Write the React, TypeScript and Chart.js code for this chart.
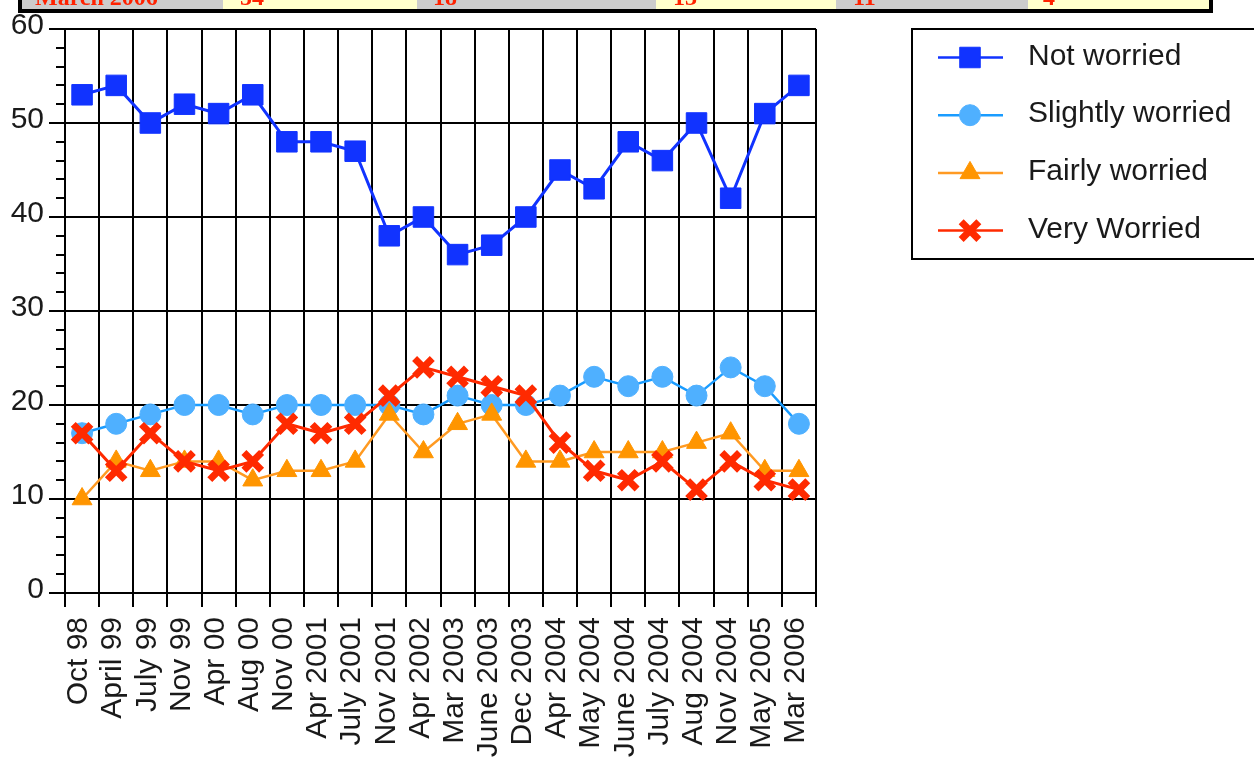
import React, { useEffect, useRef } from "react";
import { Chart, registerables } from "chart.js";
import { drawPoint } from "chart.js/helpers";

Chart.register(...registerables);

const categories = [
  "Oct 98", "April 99", "July 99", "Nov 99", "Apr 00", "Aug 00", "Nov 00",
  "Apr 2001", "July 2001", "Nov 2001", "Apr 2002", "Mar 2003", "June 2003",
  "Dec 2003", "Apr 2004", "May 2004", "June 2004", "July 2004", "Aug 2004",
  "Nov 2004", "May 2005", "Mar 2006",
];
const notWorried = [53, 54, 50, 52, 51, 53, 48, 48, 47, 38, 40, 36, 37, 40, 45, 43, 48, 46, 50, 42, 51, 54];
const slightlyWorried = [17, 18, 19, 20, 20, 19, 20, 20, 20, 20, 19, 21, 20, 20, 21, 23, 22, 23, 21, 24, 22, 18];
const fairlyWorried = [10, 14, 13, 14, 14, 12, 13, 13, 14, 19, 15, 18, 19, 14, 14, 15, 15, 15, 16, 17, 13, 13];
const veryWorried = [17, 13, 17, 14, 13, 14, 18, 17, 18, 21, 24, 23, 22, 21, 16, 13, 12, 14, 11, 14, 12, 11];

const seriesLabels = ["Not worried", "Slightly worried", "Fairly worried", "Very Worried"];
const yMin = 0;
const yMax = 60;
const yStep = 10;
const yMinorStep = 2;

const tableRowLabel = "March 2006";
const tableRowValues = ["54", "18", "13", "11", "4"];

const FONT = "'Liberation Sans', Arial, Helvetica, sans-serif";

const minorTicksPlugin = {
  id: "minorTicks",
  afterDraw(chart: any) {
    const ys = chart.scales.y;
    const ctx = chart.ctx;
    ctx.save();
    ctx.strokeStyle = "#000";
    ctx.lineWidth = 2;
    for (let v = yMin; v <= yMax; v += yMinorStep) {
      if (v % yStep === 0) continue;
      const py = Math.round(ys.getPixelForValue(v));
      ctx.beginPath();
      ctx.moveTo(ys.right - 9, py);
      ctx.lineTo(ys.right, py);
      ctx.stroke();
    }
    ctx.restore();
  },
};

const boxLegendPlugin = {
  id: "boxLegend",
  afterDraw(chart: any) {
    const ctx = chart.ctx;
    const left = chart.chartArea.right + 96;
    const top = chart.chartArea.top;
    ctx.save();
    ctx.fillStyle = "#fff";
    ctx.fillRect(left, top, 400, 230);
    ctx.strokeStyle = "#000";
    ctx.lineWidth = 2;
    ctx.strokeRect(left, top, 400, 230);
    [0, 1, 2, 3].forEach((i) => {
      const ds = chart.data.datasets[i];
      const y = top + 28.5 + i * 57.7;
      ctx.strokeStyle = ds.borderColor;
      ctx.lineWidth = 2.5;
      ctx.beginPath();
      ctx.moveTo(left + 26, y);
      ctx.lineTo(left + 91, y);
      ctx.stroke();
      ctx.fillStyle = ds.pointBackgroundColor;
      ctx.strokeStyle = ds.pointBorderColor;
      ctx.lineWidth = ds.pointBorderWidth;
      drawPoint(ctx, {
        pointStyle: ds.pointStyle,
        radius: ds.pointRadius,
        borderWidth: ds.pointBorderWidth,
        rotation: 0,
      } as any, left + 58, y);
      ctx.fillStyle = "#1a1a1a";
      ctx.font = `30px ${FONT}`;
      ctx.textBaseline = "alphabetic";
      ctx.textAlign = "left";
      ctx.fillText(ds.label, left + 116, y + 7);
    });
    ctx.restore();
  },
};

const cellWidths = [201, 194, 239, 180, 192, 181];
const cellColors = ["#cccccc", "#ffffcc", "#cccccc", "#ffffcc", "#cccccc", "#ffffcc"];
const cellPads = [13, 17, 16, 17, 17, 15];

export default function App() {
  const canvasRef = useRef<HTMLCanvasElement | null>(null);

  useEffect(() => {
    if (!canvasRef.current) return;
    const chart = new Chart(canvasRef.current, {
      type: "line",
      data: {
        labels: categories,
        datasets: [
          {
            label: seriesLabels[0],
            data: notWorried,
            borderColor: "#1133ff",
            backgroundColor: "#1133ff",
            pointBackgroundColor: "#1133ff",
            pointBorderColor: "#1133ff",
            pointBorderWidth: 1,
            borderWidth: 3,
            pointStyle: "rect",
            pointRadius: 14.5,
            order: 0,
          },
          {
            label: seriesLabels[1],
            data: slightlyWorried,
            borderColor: "#1a9cff",
            backgroundColor: "#4fb0ff",
            pointBackgroundColor: "#4fb0ff",
            pointBorderColor: "#4fb0ff",
            pointBorderWidth: 1,
            borderWidth: 2.5,
            pointStyle: "circle",
            pointRadius: 10.5,
            order: 3,
          },
          {
            label: seriesLabels[2],
            data: fairlyWorried,
            borderColor: "#ff9a22",
            backgroundColor: "#ff9500",
            pointBackgroundColor: "#ff9500",
            pointBorderColor: "#ff9500",
            pointBorderWidth: 1,
            borderWidth: 2.5,
            pointStyle: "triangle",
            pointRadius: 11.5,
            order: 2,
          },
          {
            label: seriesLabels[3],
            data: veryWorried,
            borderColor: "#ff2a00",
            backgroundColor: "#ff2a00",
            pointBackgroundColor: "#ff2a00",
            pointBorderColor: "#ff2a00",
            pointBorderWidth: 7,
            borderWidth: 3,
            pointStyle: "crossRot",
            pointRadius: 12.5,
            order: 1,
          },
        ],
      },
      options: {
        animation: false,
        responsive: false,
        maintainAspectRatio: false,
        events: [],
        layout: { padding: { top: 29, right: 438, left: 0, bottom: 0 } },
        plugins: {
          legend: { display: false },
          tooltip: { enabled: false },
          title: { display: false },
        },
        scales: {
          x: {
            type: "category",
            offset: true,
            grid: { offset: true, color: "#000", lineWidth: 2, tickLength: 14, tickColor: "#000" },
            border: { display: true, color: "#000", width: 2 },
            ticks: {
              autoSkip: false,
              maxRotation: 90,
              minRotation: 90,
              padding: 10,
              labelOffset: -3,
              color: "#1a1a1a",
              font: { family: FONT, size: 30 },
            },
            afterFit: (scale: any) => {
              scale.height = 170;
            },
          },
          y: {
            min: yMin,
            max: yMax,
            grid: { color: "#000", lineWidth: 2, tickLength: 16, tickColor: "#000" },
            border: { display: true, color: "#000", width: 2 },
            ticks: {
              stepSize: yStep,
              padding: 5,
              labelOffset: -3,
              color: "#1a1a1a",
              font: { family: FONT, size: 30 },
            },
            afterFit: (scale: any) => {
              scale.width = 65;
            },
          },
        },
      },
      plugins: [minorTicksPlugin, boxLegendPlugin],
    });
    return () => chart.destroy();
  }, []);

  return (
    <div style={{ position: "absolute", left: 0, top: 0, width: 1254, height: 763, background: "#fff", overflow: "hidden" }}>
      <canvas ref={canvasRef} width={1254} height={763} style={{ position: "absolute", left: 0, top: 0, width: 1254, height: 763 }} />
      <div
        style={{
          position: "absolute",
          left: 18,
          top: 0,
          width: 1195,
          height: 13,
          boxSizing: "border-box",
          borderLeft: "4px solid #000",
          borderRight: "4px solid #000",
          borderBottom: "4px solid #000",
          display: "flex",
          overflow: "hidden",
          zIndex: 2,
        }}
      >
        {[tableRowLabel, ...tableRowValues].map((t, i) => (
          <div
            key={i}
            style={{
              position: "relative",
              width: cellWidths[i],
              height: 9,
              background: cellColors[i],
              overflow: "hidden",
              flex: "none",
            }}
          >
            <span
              style={{
                position: "absolute",
                left: cellPads[i],
                top: -15,
                font: "bold 24px 'Liberation Serif', 'Times New Roman', serif",
                lineHeight: "24px",
                color: "#ff2200",
                whiteSpace: "nowrap",
              }}
            >
              {t}
            </span>
          </div>
        ))}
      </div>
    </div>
  );
}
